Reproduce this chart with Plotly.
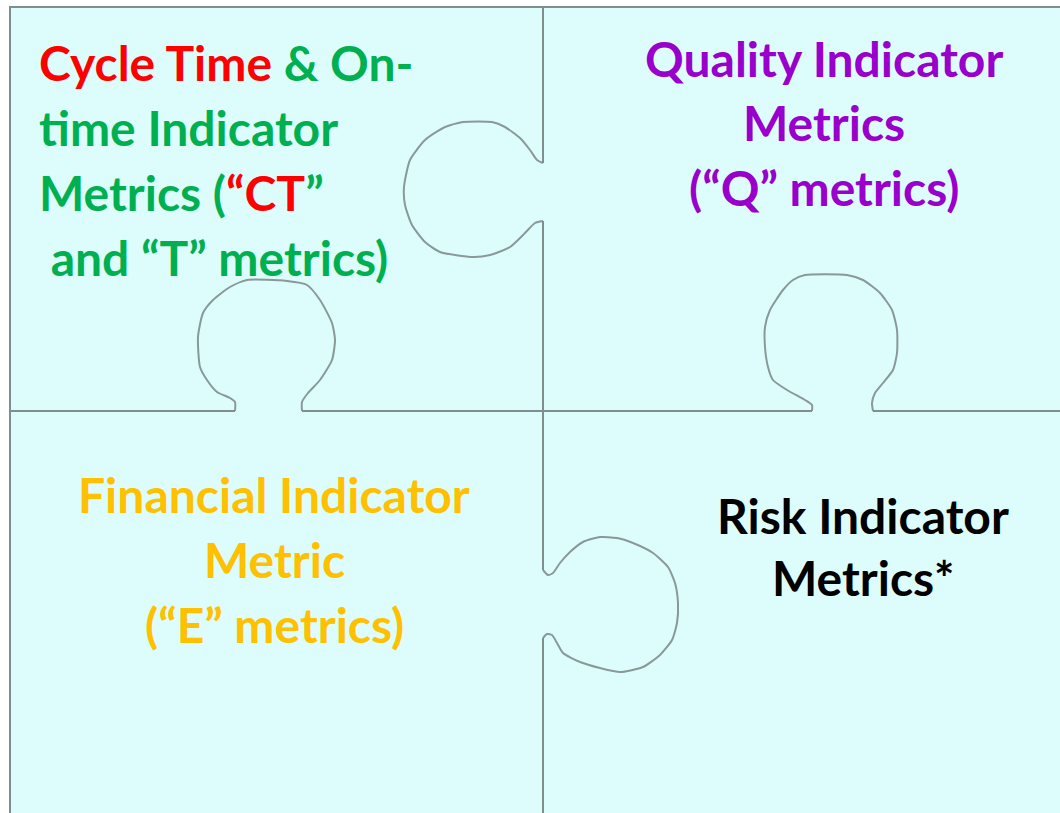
import plotly.graph_objects as go

W, H = 1060, 813

# Frame geometry (pixel coordinates, y downwards)
frame_left, frame_top = 10, 7
split_x, split_y = 543, 411

# Straight dividers: (x0, y0, x1, y1)
seg_x0 = [543, 543, 543, 10, 302, 543, 873]
seg_y0 = [7, 221, 638, 411, 411, 411, 411]
seg_x1 = [543, 543, 543, 235, 543, 812, 1060]
seg_y1 = [163, 570, 813, 411, 411, 411, 411]

# Knob outlines (pixel coordinates)
knob_top_x = [543, 537, 530, 520, 505, 492, 463, 445, 425, 410, 404, 405, 412, 425, 440, 473, 490, 510, 525, 535, 543]
knob_top_y = [163, 160, 150, 138, 127, 122, 122, 127, 140, 160, 187, 205, 225, 242, 252, 257, 255, 247, 233, 223, 221]

knob_bl_x = [235, 235, 230, 217, 207, 200, 198, 203, 213, 230, 247, 287, 307, 320, 332, 335, 332, 320, 308, 302, 302]
knob_bl_y = [411, 402, 398, 392, 380, 367, 337, 313, 300, 287, 280, 281, 285, 300, 323, 340, 360, 380, 393, 402, 411]

knob_br_x = [812, 812, 805, 787, 773, 768, 765, 765, 770, 783, 793, 805, 847, 863, 880, 892, 897, 897, 893, 883, 875, 872, 873]
knob_br_y = [411, 405, 400, 390, 380, 367, 347, 327, 310, 290, 280, 275, 275, 280, 293, 310, 330, 353, 370, 383, 393, 403, 411]

knob_bot_x = [543, 548, 553, 560, 570, 583, 600, 617, 633, 653, 668, 675, 678, 677, 672, 660, 643, 620, 600, 580, 563, 557, 552, 547, 543]
knob_bot_y = [570, 575, 573, 563, 552, 542, 537, 538, 543, 553, 567, 583, 603, 623, 640, 655, 667, 672, 668, 662, 653, 643, 635, 634, 638]

# Text blocks
RED, GREEN, PURPLE, GOLD, BLACK = "#FF0000", "#00B050", "#9A00CC", "#FFC000", "#000000"
tl_lines = [
    f"<span style='color:{RED}'>Cycle Time</span> & On-",
    "time Indicator",
    f"Metrics (<span style='color:{RED}'>“CT</span>”",
    " and “T” metrics)",
]
tl_x = [37, 37, 37, 37]
tl_y = [62, 127, 192, 257]

tr_lines = ["Quality Indicator", "Metrics", "(“Q” metrics)"]
tr_y = [58, 122, 187]
bl_lines = ["Financial Indicator", "Metric", "(“E” metrics)"]
bl_y = [494, 559, 624]
br_lines = ["Risk Indicator", "Metrics*"]
br_y = [515, 577]

FONT = "Lato"
FS = 48

fig = go.Figure()

line_col = "#8A9898"
for xs, ys in [(knob_top_x, knob_top_y), (knob_bl_x, knob_bl_y), (knob_br_x, knob_br_y), (knob_bot_x, knob_bot_y)]:
    fig.add_trace(go.Scatter(x=xs, y=ys, mode="lines", line=dict(color=line_col, width=2, shape="spline", smoothing=0.6),
                             hoverinfo="skip", showlegend=False))

shapes = [
    dict(type="rect", x0=frame_left, y0=frame_top, x1=W + 20, y1=H + 20, fillcolor="#DDFDFD",
         line=dict(color="#7F8F8F", width=2), layer="below"),
]
for x0, y0, x1, y1 in zip(seg_x0, seg_y0, seg_x1, seg_y1):
    shapes.append(dict(type="line", x0=x0, y0=y0, x1=x1, y1=y1, line=dict(color="#808E8E", width=2), layer="above"))

annotations = []
for t, x, y in zip(tl_lines, tl_x, tl_y):
    annotations.append(dict(x=x, y=y, text=t, xanchor="left", yanchor="middle", showarrow=False,
                            font=dict(family=FONT, size=FS, color=GREEN, weight="bold")))
for t, y in zip(tr_lines, tr_y):
    annotations.append(dict(x=824, y=y, text=t, xanchor="center", yanchor="middle", showarrow=False,
                            font=dict(family=FONT, size=FS, color=PURPLE, weight="bold")))
for t, y in zip(bl_lines, bl_y):
    annotations.append(dict(x=274, y=y, text=t, xanchor="center", yanchor="middle", showarrow=False,
                            font=dict(family=FONT, size=FS, color=GOLD, weight="bold")))
for t, y in zip(br_lines, br_y):
    annotations.append(dict(x=863, y=y, text=t, xanchor="center", yanchor="middle", showarrow=False,
                            font=dict(family=FONT, size=FS, color=BLACK, weight="bold")))

fig.update_layout(
    width=W, height=H, margin=dict(l=0, r=0, t=0, b=0),
    paper_bgcolor="white", plot_bgcolor="white",
    xaxis=dict(range=[0, W], visible=False, fixedrange=True),
    yaxis=dict(range=[H, 0], visible=False, fixedrange=True),
    shapes=shapes, annotations=annotations,
)

fig.write_html("out.html", config=dict(displayModeBar=False),
               post_script="document.body.style.margin='0';document.body.style.overflow='hidden';")
